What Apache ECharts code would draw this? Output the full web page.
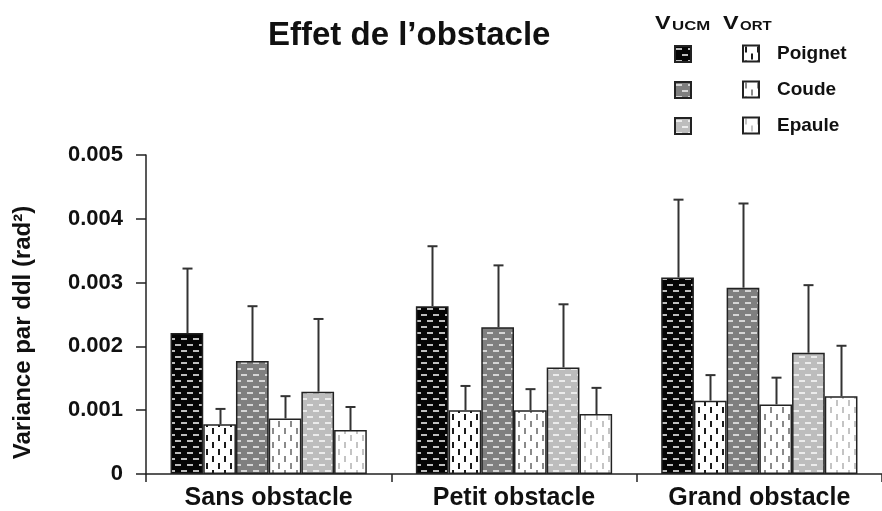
<!DOCTYPE html>
<html>
<head>
<meta charset="utf-8">
<script src="https://cdn.jsdelivr.net/npm/echarts@6/dist/echarts.min.js"></script>
<style>
html,body{margin:0;padding:0;background:#fff;}
#chart{width:882px;height:511px;}
</style>
</head>
<body>
<div id="chart"></div>
<script>
// ---- data ----
const categories = ['Sans obstacle', 'Petit obstacle', 'Grand obstacle'];
const seriesNames = ['VUCM Poignet', 'VORT Poignet', 'VUCM Coude', 'VORT Coude', 'VUCM Epaule', 'VORT Epaule'];
const vucmPoignet = [0.00221, 0.00263, 0.00308];
const vortPoignet = [0.00078, 0.00100, 0.00115];
const vucmCoude   = [0.00177, 0.00230, 0.00292];
const vortCoude   = [0.00087, 0.00100, 0.00109];
const vucmEpaule  = [0.00129, 0.00167, 0.00190];
const vortEpaule  = [0.00069, 0.00094, 0.00122];
const sdVucmPoignet = [0.00101, 0.00094, 0.00122];
const sdVortPoignet = [0.00024, 0.00038, 0.00040];
const sdVucmCoude   = [0.00086, 0.00097, 0.00132];
const sdVortCoude   = [0.00035, 0.00033, 0.00042];
const sdVucmEpaule  = [0.00114, 0.00099, 0.00106];
const sdVortEpaule  = [0.00036, 0.00041, 0.00079];
const yTickLabels = ['0', '0.001', '0.002', '0.003', '0.004', '0.005'];
const legendLabels = ['Poignet', 'Coude', 'Epaule'];

const values = [vucmPoignet, vortPoignet, vucmCoude, vortCoude, vucmEpaule, vortEpaule];
const sds = [sdVucmPoignet, sdVortPoignet, sdVucmCoude, sdVortCoude, sdVucmEpaule, sdVortEpaule];

// ---- patterns ----
function hPattern(bg, fg) {
  const c = document.createElement('canvas');
  c.width = 12; c.height = 12;
  const g = c.getContext('2d');
  g.fillStyle = bg; g.fillRect(0, 0, 12, 12);
  g.fillStyle = fg;
  g.fillRect(1, 2, 6, 2);
  g.fillRect(7, 8, 5, 2);
  g.fillRect(0, 8, 1, 2);
  return { image: c, repeat: 'repeat' };
}
function vPattern(fg) {
  const c = document.createElement('canvas');
  c.width = 12; c.height = 14;
  const g = c.getContext('2d');
  g.fillStyle = '#ffffff'; g.fillRect(0, 0, 12, 14);
  g.fillStyle = fg;
  g.fillRect(2, 1, 2, 6);
  g.fillRect(8, 8, 2, 6);
  return { image: c, repeat: 'repeat' };
}
const fills = [
  hPattern('#050505', '#bdbdbd'),
  vPattern('#1a1a1a'),
  hPattern('#7f7f7f', '#d6d6d6'),
  vPattern('#8a8a8a'),
  hPattern('#bdbdbd', '#ececec'),
  vPattern('#c4c4c4')
];

const FONT = '"Liberation Sans", Arial, Helvetica, sans-serif';
const TXT = '#111';

const barSeries = seriesNames.map((n, i) => ({
  name: n,
  type: 'bar',
  barGap: '0%',
  barCategoryGap: '20%',
  data: values[i],
  itemStyle: { color: fills[i], borderColor: '#222', borderWidth: 1.5 },
  z: 2
}));

const errData = [];
categories.forEach((c, ci) => {
  values.forEach((arr, si) => {
    errData.push([ci, si, arr[ci], arr[ci] + sds[si][ci]]);
  });
});

const errSeries = {
  type: 'custom',
  name: 'err',
  data: errData,
  z: 3,
  encode: { x: 0, y: [2, 3] },
  renderItem: function (params, api) {
    const ci = api.value(0), si = api.value(1);
    const p0 = api.coord([ci, api.value(2)]);
    const p1 = api.coord([ci, api.value(3)]);
    const band = api.size([1, 0])[0];
    const bw = band * 0.8 / 6;
    const x = Math.round(p0[0] - band * 0.4 + bw * (si + 0.5)) + 0.5;
    const st = { stroke: '#333', lineWidth: 2 };
    return {
      type: 'group',
      children: [
        { type: 'line', shape: { x1: x, y1: p0[1], x2: x, y2: p1[1] }, style: st },
        { type: 'line', shape: { x1: x - 5, y1: p1[1], x2: x + 5, y2: p1[1] }, style: st }
      ]
    };
  }
};

const chart = echarts.init(document.getElementById('chart'));
chart.setOption({
  animation: false,
  backgroundColor: '#fff',
  title: {
    text: 'Effet de l’obstacle',
    left: 263, top: 14,
    textStyle: { fontFamily: FONT, fontWeight: 'bold', fontSize: 33, color: TXT }
  },
  legend: [
    {
      data: [seriesNames[0], seriesNames[2], seriesNames[4]],
      orient: 'vertical', left: 674, top: 45, padding: 0,
      itemWidth: 16, itemHeight: 16, itemGap: 18,
      icon: 'rect', selectedMode: false,
      formatter: () => '',
      textStyle: { fontSize: 1 }
    },
    {
      data: [seriesNames[1], seriesNames[3], seriesNames[5]],
      orient: 'vertical', left: 742, top: 44, padding: 0,
      itemWidth: 16, itemHeight: 16, itemGap: 17,
      icon: 'rect', selectedMode: false,
      formatter: (name) => legendLabels[seriesNames.indexOf(name) >> 1],
      textStyle: { fontFamily: FONT, fontWeight: 'bold', fontSize: 19, color: TXT, padding: [0, 0, 0, 13] }
    }
  ],
  graphic: [
    { type: 'text', x: 655, y: 33, scaleX: 1.3, style: { text: 'V', font: 'bold 18px ' + FONT, fill: TXT, verticalAlign: 'bottom' } },
    { type: 'text', x: 672, y: 33, scaleX: 1.4, style: { text: 'UCM', font: 'bold 12px ' + FONT, fill: TXT, verticalAlign: 'bottom' } },
    { type: 'text', x: 723, y: 33, scaleX: 1.3, style: { text: 'V', font: 'bold 18px ' + FONT, fill: TXT, verticalAlign: 'bottom' } },
    { type: 'text', x: 740, y: 33, scaleX: 1.25, style: { text: 'ORT', font: 'bold 12px ' + FONT, fill: TXT, verticalAlign: 'bottom' } }
  ],
  grid: { left: 146, top: 155, width: 747, height: 324 },
  xAxis: {
    type: 'category',
    data: categories,
    axisLine: { lineStyle: { color: '#222', width: 1.5 } },
    axisTick: { show: true, length: 8, lineStyle: { color: '#222', width: 1.5 } },
    axisLabel: { fontFamily: FONT, fontWeight: 'bold', fontSize: 25, color: TXT, margin: 12 },
    splitLine: { show: false }
  },
  yAxis: {
    type: 'value',
    min: 0, max: 0.005, interval: 0.001,
    name: 'Variance par ddl (rad²)',
    nameLocation: 'middle',
    nameGap: 111,
    nameTextStyle: { fontFamily: FONT, fontWeight: 'bold', fontSize: 24, color: TXT, padding: [0, 36, 0, 0] },
    axisLine: { show: true, lineStyle: { color: '#222', width: 1.5 } },
    axisTick: { show: true, length: 10, lineStyle: { color: '#222', width: 1.5 } },
    axisLabel: {
      fontFamily: FONT, fontWeight: 'bold', fontSize: 22, color: TXT, margin: 23,
      formatter: (v, i) => yTickLabels[i]
    },
    splitLine: { show: false }
  },
  series: barSeries.concat([errSeries])
});
</script>
</body>
</html>
